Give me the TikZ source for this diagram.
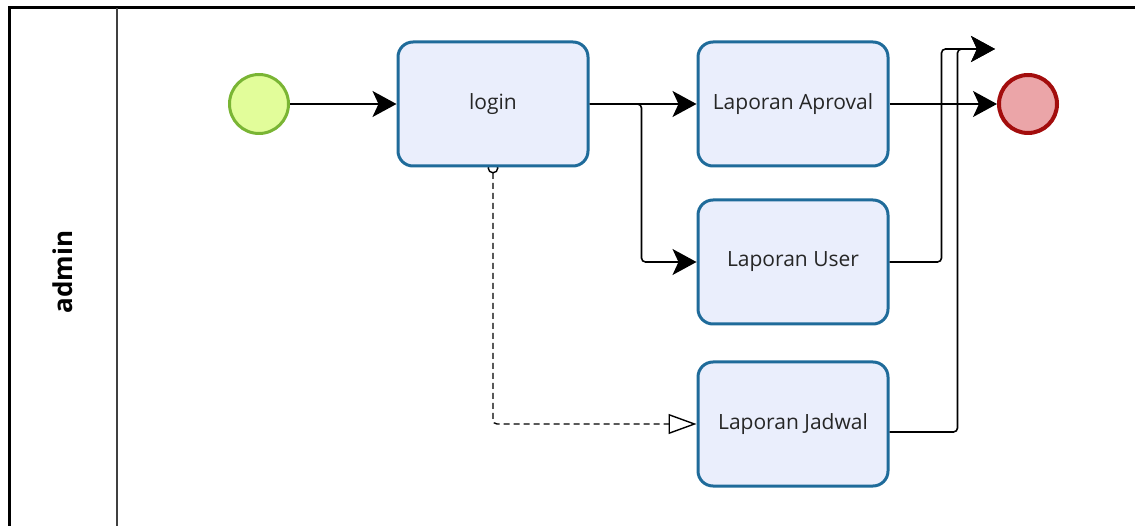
\documentclass[tikz,border=0pt]{standalone}
\usepackage{fontspec}
\setmainfont{Open Sans}
\usepackage{xcolor}
\usetikzlibrary{arrows.meta, calc, backgrounds}

\definecolor{taskline}{HTML}{1F6B9A}
\definecolor{taskfill}{HTML}{EAEEFC}
\definecolor{startline}{HTML}{7AB534}
\definecolor{startfill}{HTML}{E2FD9A}
\definecolor{endline}{HTML}{A30D0D}
\definecolor{endfill}{HTML}{EBA5A8}

\tikzset{
  task/.style={draw=taskline, fill=taskfill, line width=3pt, rounded corners=15pt,
    minimum width=190pt, minimum height=124pt, font=\fontsize{21}{24}\selectfont, text=black!85},
  startev/.style={circle, draw=startline, fill=startfill, line width=3pt, minimum size=59pt},
  endev/.style={circle, draw=endline, fill=endfill, line width=4pt, minimum size=58pt},
  flow/.style={line width=1.6pt, rounded corners=4pt, -{Stealth[length=24pt, width=26pt, inset=6pt]}},
  assoc/.style={line width=1.4pt, dash pattern=on 6pt off 4pt, rounded corners=4pt,
    {Circle[open, length=11pt, fill=white, line width=1.4pt]}-{Triangle[open, length=28pt, width=20pt, fill=white, line width=1.4pt]}}
}

\begin{document}
\begin{tikzpicture}[x=1pt, y=-1pt]
\useasboundingbox (0,0) rectangle (1135,526);
% Pool and lane
\draw[line width=3pt] (9,8) rectangle (1160,560);
\draw[line width=2pt, black!75] (117,8) -- (117,560);
\node[rotate=90, font=\bfseries\fontsize{26}{30}\selectfont] (lane) at (63,272) {admin};
% Events
\node[startev] (start) at (259,104) {};
\node[endev] (finish) at (1028,104) {};
% Tasks
\node[task] (login) at (493,104) {login};
\node[task] (aproval) at (793,104) {Laporan Aproval};
\node[task] (user) at (793,262) {Laporan User};
\node[task] (jadwal) at (793,424) {Laporan Jadwal};
\coordinate (out) at (995,49);
% Flows
\begin{scope}[on background layer]
\draw[assoc, shorten <=-5pt] (login.south) |- (jadwal.west);
\end{scope}
\draw[flow] (start) -- (login);
\draw[flow] (login) -- (aproval);
\draw[flow] (login.east) -- ++(52,0) |- (user.west);
\draw[flow] (aproval) -- (finish);
\draw[flow] (user.east) -- ++(52,0) |- (out);
\draw[flow] ($(jadwal.east)+(0,8)$) -- ++(68,0) |- (out);
\end{tikzpicture}
\end{document}
